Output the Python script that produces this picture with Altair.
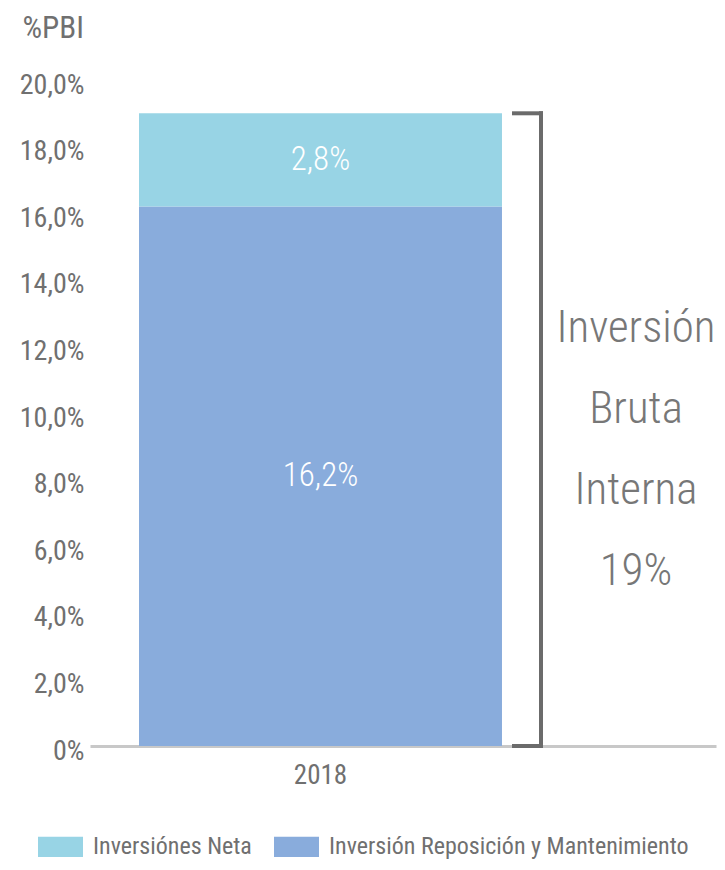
import altair as alt
import pandas as pd

# ---- data ----
year = ["2018", "2018"]
series = ["Inversión Reposición y Mantenimiento", "Inversiónes Neta"]
values = [16.2, 2.8]
stack_order = [0, 1]
legend_order = ["Inversiónes Neta", "Inversión Reposición y Mantenimiento"]
colors = ["#98d4e5", "#89acdc"]
y_ticks = [0, 2, 4, 6, 8, 10, 12, 14, 16, 18, 20]
bracket_lines = ["Inversión", "Bruta", "Interna", "19%"]

FONT = "Roboto Condensed, Liberation Sans Narrow, DejaVu Sans Condensed, sans-serif"
GREY = "#707070"

df = pd.DataFrame({"year": year, "serie": series, "value": values, "ord": stack_order})
total_df = pd.DataFrame({
    "year": ["2018"],
    "total": [sum(values)],
    "label": ["\n".join(bracket_lines)],
})

xscale = alt.Scale(paddingInner=0, paddingOuter=0.3623, align=0.1863)
xaxis = alt.Axis(title=None, labelAngle=0, ticks=False, domainColor="#c8c8c8",
                 domainWidth=3, labelFontSize=27, labelColor=GREY, labelPadding=16,
                 labelFont=FONT)
yscale = alt.Scale(domain=[0, 20], nice=False, zero=True)
yaxis = alt.Axis(
    values=y_ticks,
    labelExpr="datum.value == 0 ? '0%' : replace(format(datum.value, '.1f'), '.', ',') + '%'",
    domain=False, ticks=False, grid=False,
    labelFontSize=28, labelColor=GREY, labelPadding=6, labelOffset=5, labelFont=FONT,
    title="%PBI", titleAngle=0, titleAlign="left", titleBaseline="middle",
    titleX=-68, titleY=-52, titleFontSize=31, titleFontWeight="normal",
    titleColor=GREY, titleFont=FONT,
)

bars = alt.Chart(df).mark_bar().encode(
    x=alt.X("year:N", scale=xscale, axis=xaxis, title=None),
    y=alt.Y("value:Q", scale=yscale, axis=yaxis, stack="zero", title="%PBI"),
    color=alt.Color(
        "serie:N",
        scale=alt.Scale(domain=legend_order, range=colors),
        legend=alt.Legend(
            title=None, orient="none", legendX=-52, legendY=744,
            direction="horizontal", symbolType="M-1,-0.45H1V0.45H-1Z",
            symbolSize=2025, symbolStrokeWidth=0, symbolOpacity=1,
            labelFontSize=24, labelColor=GREY, labelFont=FONT,
            columnPadding=22, labelOffset=10, labelLimit=500,
        ),
    ),
    order=alt.Order("ord:Q", sort="ascending"),
)

labels = alt.Chart(df).transform_stack(
    stack="value", groupby=["year"], as_=["v0", "v1"],
    sort=[alt.SortField("ord", order="ascending")],
).transform_calculate(
    mid="(datum.v0 + datum.v1) / 2",
    txt="replace(format(datum.value, '.1f'), '.', ',') + '%'",
).mark_text(color="white", fontSize=33, fontWeight=300, font=FONT).encode(
    x=alt.X("year:N", title=None),
    y=alt.Y("mid:Q", title="%PBI"),
    text="txt:N",
)

BR = "#6b6b6b"
vrule = alt.Chart(total_df).mark_rule(color=BR, strokeWidth=4, strokeCap="square").encode(
    x=alt.value(451), y=alt.Y("total:Q", title="%PBI"), y2=alt.datum(0)
)
topcap = alt.Chart(total_df).mark_rule(color=BR, strokeWidth=4, strokeCap="square").encode(
    x=alt.value(424), x2=alt.value(451), y=alt.Y("total:Q", title="%PBI")
)
botcap = alt.Chart(total_df).mark_rule(color=BR, strokeWidth=4, strokeCap="square").encode(
    x=alt.value(424), x2=alt.value(451), y=alt.datum(0)
)
btext = alt.Chart(total_df).mark_text(
    fontSize=45, fontWeight=300, color="#777777", lineBreak="\n", lineHeight=81,
    align="center", baseline="middle", font=FONT,
).encode(x=alt.value(546), y=alt.value(248), text="label:N")

chart = alt.layer(bars, labels, vrule, topcap, botcap, btext).properties(
    width=626, height=666,
    autosize=alt.AutoSizeParams(type="none"),
    padding={"left": 82, "top": 72, "right": 1, "bottom": 116},
).configure(font=FONT).configure_view(stroke=None)

chart.save("out.html", embed_options={"renderer": "svg", "actions": False})
